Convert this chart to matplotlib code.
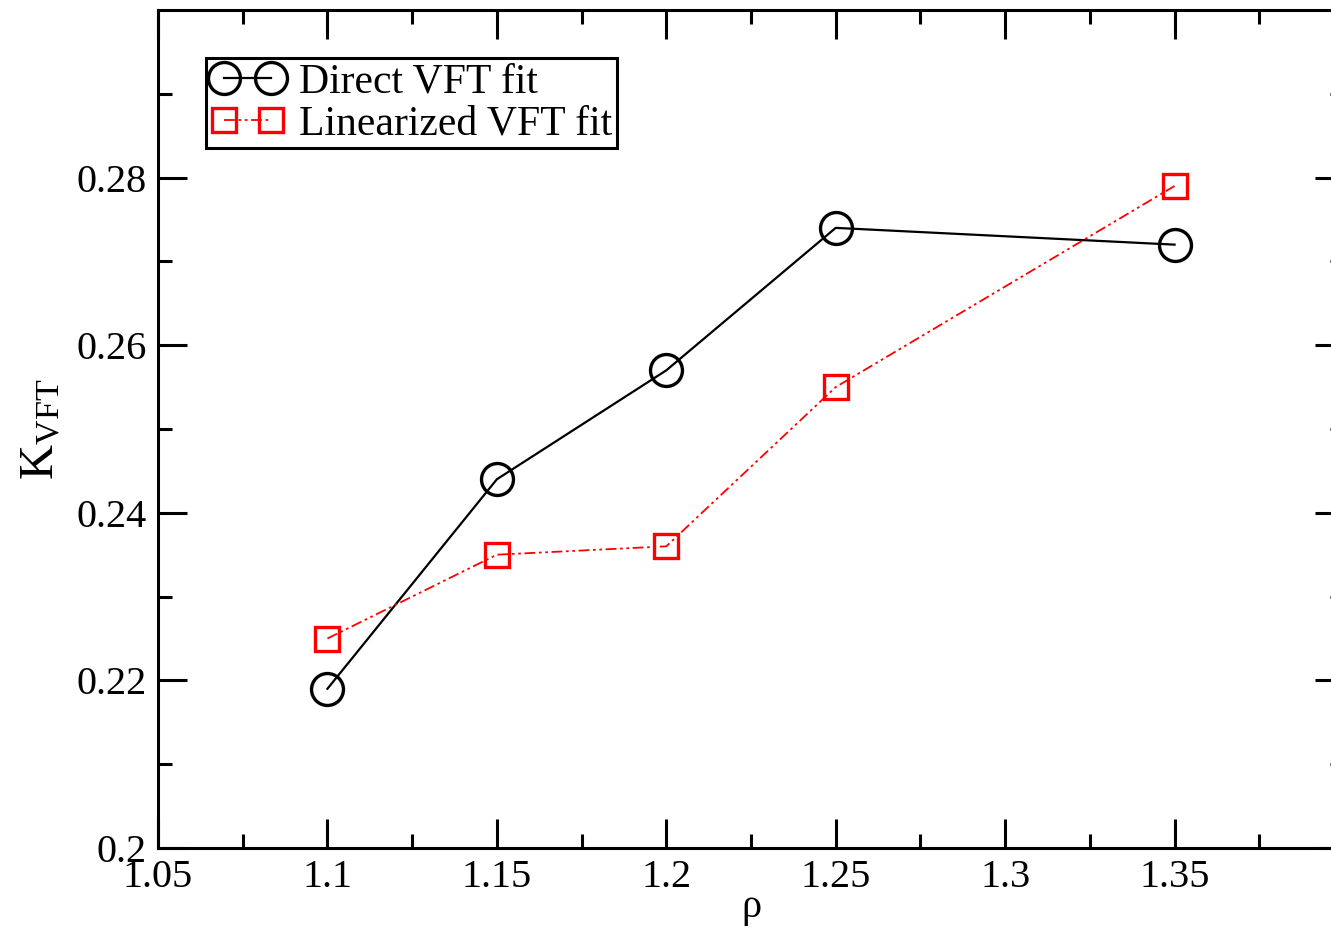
import matplotlib
matplotlib.use('Agg')
import matplotlib.pyplot as plt
import numpy as np

rho = [1.1, 1.15, 1.2, 1.25, 1.35]
k_direct = [0.219, 0.244, 0.257, 0.274, 0.272]
k_linear = [0.225, 0.235, 0.236, 0.255, 0.279]

xticks = [1.05, 1.1, 1.15, 1.2, 1.25, 1.3, 1.35]
xticklabels = ['1.05', '1.1', '1.15', '1.2', '1.25', '1.3', '1.35']
yticks = [0.2, 0.22, 0.24, 0.26, 0.28]
yticklabels = ['0.2', '0.22', '0.24', '0.26', '0.28']

plt.rcParams['font.family'] = 'Liberation Serif'
plt.rcParams['mathtext.fontset'] = 'custom'
plt.rcParams['mathtext.rm'] = 'Liberation Serif'
plt.rcParams['mathtext.it'] = 'Liberation Serif'

fig = plt.figure(figsize=(13.31, 9.32), dpi=100)
ax = fig.add_axes([158/1331, 84/932, 1186/1331, 838/932])

ax.plot(rho, k_direct, color='black', lw=1.6, marker='o', ms=23, mfc='none',
        mec='black', mew=2.4, label='Direct VFT fit')
ax.plot(rho, k_linear, color='red', lw=1.3, dashes=[6, 2, 1.5, 2, 1.5, 2],
        marker='s', ms=17, mfc='none', mec='red', mew=2.4,
        label='Linearized VFT fit')

ax.set_xlim(1.05, 1.4)
ax.set_ylim(0.2, 0.3)
ax.set_xticks(xticks)
ax.set_xticklabels(xticklabels)
ax.set_yticks(yticks)
ax.set_yticklabels(yticklabels)
ax.set_xticks(np.arange(1.075, 1.4, 0.05), minor=True)
ax.set_yticks(np.arange(0.21, 0.3, 0.02), minor=True)

ax.tick_params(which='both', direction='in', top=True, right=True, width=2.2,
               labelsize=29, pad=8)
ax.tick_params(which='major', length=21)
ax.tick_params(which='minor', length=10)
for s in ax.spines.values():
    s.set_linewidth(2.2)

ax.set_xlabel(r'$\rho$', fontsize=29, labelpad=-4)
ax.set_ylabel(r'K$_{\mathrm{VFT}}$', fontsize=35, labelpad=10)

leg = ax.legend(loc='upper left', bbox_to_anchor=(0.0405, 0.943), numpoints=2,
                fontsize=30, fancybox=False, framealpha=1, edgecolor='black',
                handlelength=1.75, handletextpad=0.35, borderpad=0.12,
                labelspacing=0.08, borderaxespad=0)
leg.get_frame().set_linewidth(2.2)

fig.savefig('out.png', dpi=100)
